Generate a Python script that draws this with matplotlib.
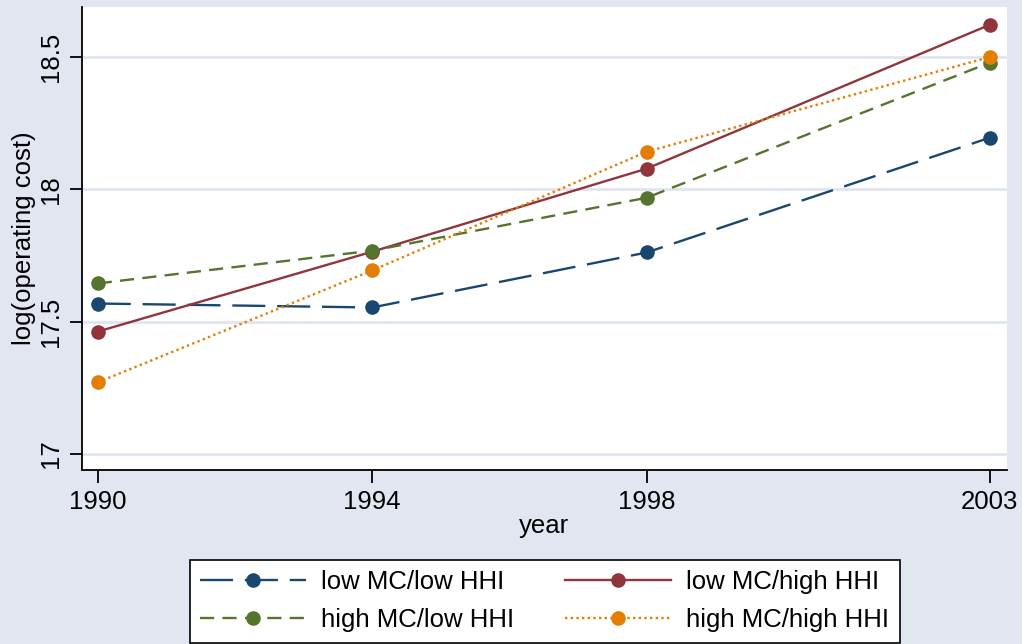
import matplotlib
matplotlib.use('Agg')
import matplotlib.pyplot as plt
from matplotlib import font_manager

# Stata-like look: condensed sans if available
names = {f.name for f in font_manager.fontManager.ttflist}
font = 'Liberation Sans Narrow' if 'Liberation Sans Narrow' in names else 'Liberation Sans'
plt.rcParams['font.family'] = [font, 'DejaVu Sans']

years = [1990, 1994, 1998, 2003]
low_mc_low_hhi = [17.568, 17.553, 17.761, 18.195]
low_mc_high_hhi = [17.462, 17.764, 18.078, 18.622]
high_mc_low_hhi = [17.644, 17.768, 17.968, 18.479]
high_mc_high_hhi = [17.270, 17.693, 18.142, 18.500]

y_ticks = [17, 17.5, 18, 18.5]
y_tick_labels = ['17', '17.5', '18', '18.5']

BG = '#E1E6F0'
GRID = '#DFE5EF'
FS = 18.5

fig = plt.figure(figsize=(10.22, 6.44), dpi=100, facecolor=BG)
ax = fig.add_axes([0.0802, 0.270, 0.905, 0.719])
ax.set_facecolor('white')

series = [
    (low_mc_low_hhi, 'low MC/low HHI', '#1A476F', (0, (14, 5))),
    (low_mc_high_hhi, 'low MC/high HHI', '#90353B', '-'),
    (high_mc_low_hhi, 'high MC/low HHI', '#55752F', (0, (6, 3.5))),
    (high_mc_high_hhi, 'high MC/high HHI', '#E37E00', (0, (1, 1.4))),
]
handles = []
for vals, label, color, ls in series:
    h, = ax.plot(years, vals, color=color, linestyle=ls, linewidth=1.7,
                 marker='o', markersize=10.5, markeredgewidth=0, label=label)
    handles.append(h)

ax.set_xlim(1989.77, 2003.25)
ax.set_ylim(16.938, 18.689)
ax.set_xticks(years)
ax.set_yticks(y_ticks)
ax.set_yticklabels(y_tick_labels, rotation=90, va='center')
ax.grid(axis='y', color=GRID, linewidth=2)
ax.set_axisbelow(True)

for side in ['top', 'right']:
    ax.spines[side].set_visible(False)
for side in ['left', 'bottom']:
    ax.spines[side].set_linewidth(1.3)
ax.tick_params(direction='out', length=9, width=1.3, labelsize=FS, pad=5)

ax.set_xlabel('year', fontsize=FS, labelpad=0)
ax.set_ylabel('log(operating cost)', fontsize=FS, labelpad=2)

# matplotlib fills legend columns first, so reorder to get rows like the original
order = [0, 2, 1, 3]
leg = fig.legend([handles[i] for i in order], [series[i][1] for i in order],
                 loc='lower center', bbox_to_anchor=(0.533, 0.0), ncol=2,
                 fontsize=FS, frameon=True, fancybox=False, framealpha=1,
                 handlelength=4.1, columnspacing=2.0, borderpad=0.4,
                 labelspacing=0.55, handletextpad=0.6, borderaxespad=0.05)
leg.get_frame().set_edgecolor('black')
leg.get_frame().set_linewidth(1.2)

fig.savefig('out.png', dpi=100, facecolor=BG)
